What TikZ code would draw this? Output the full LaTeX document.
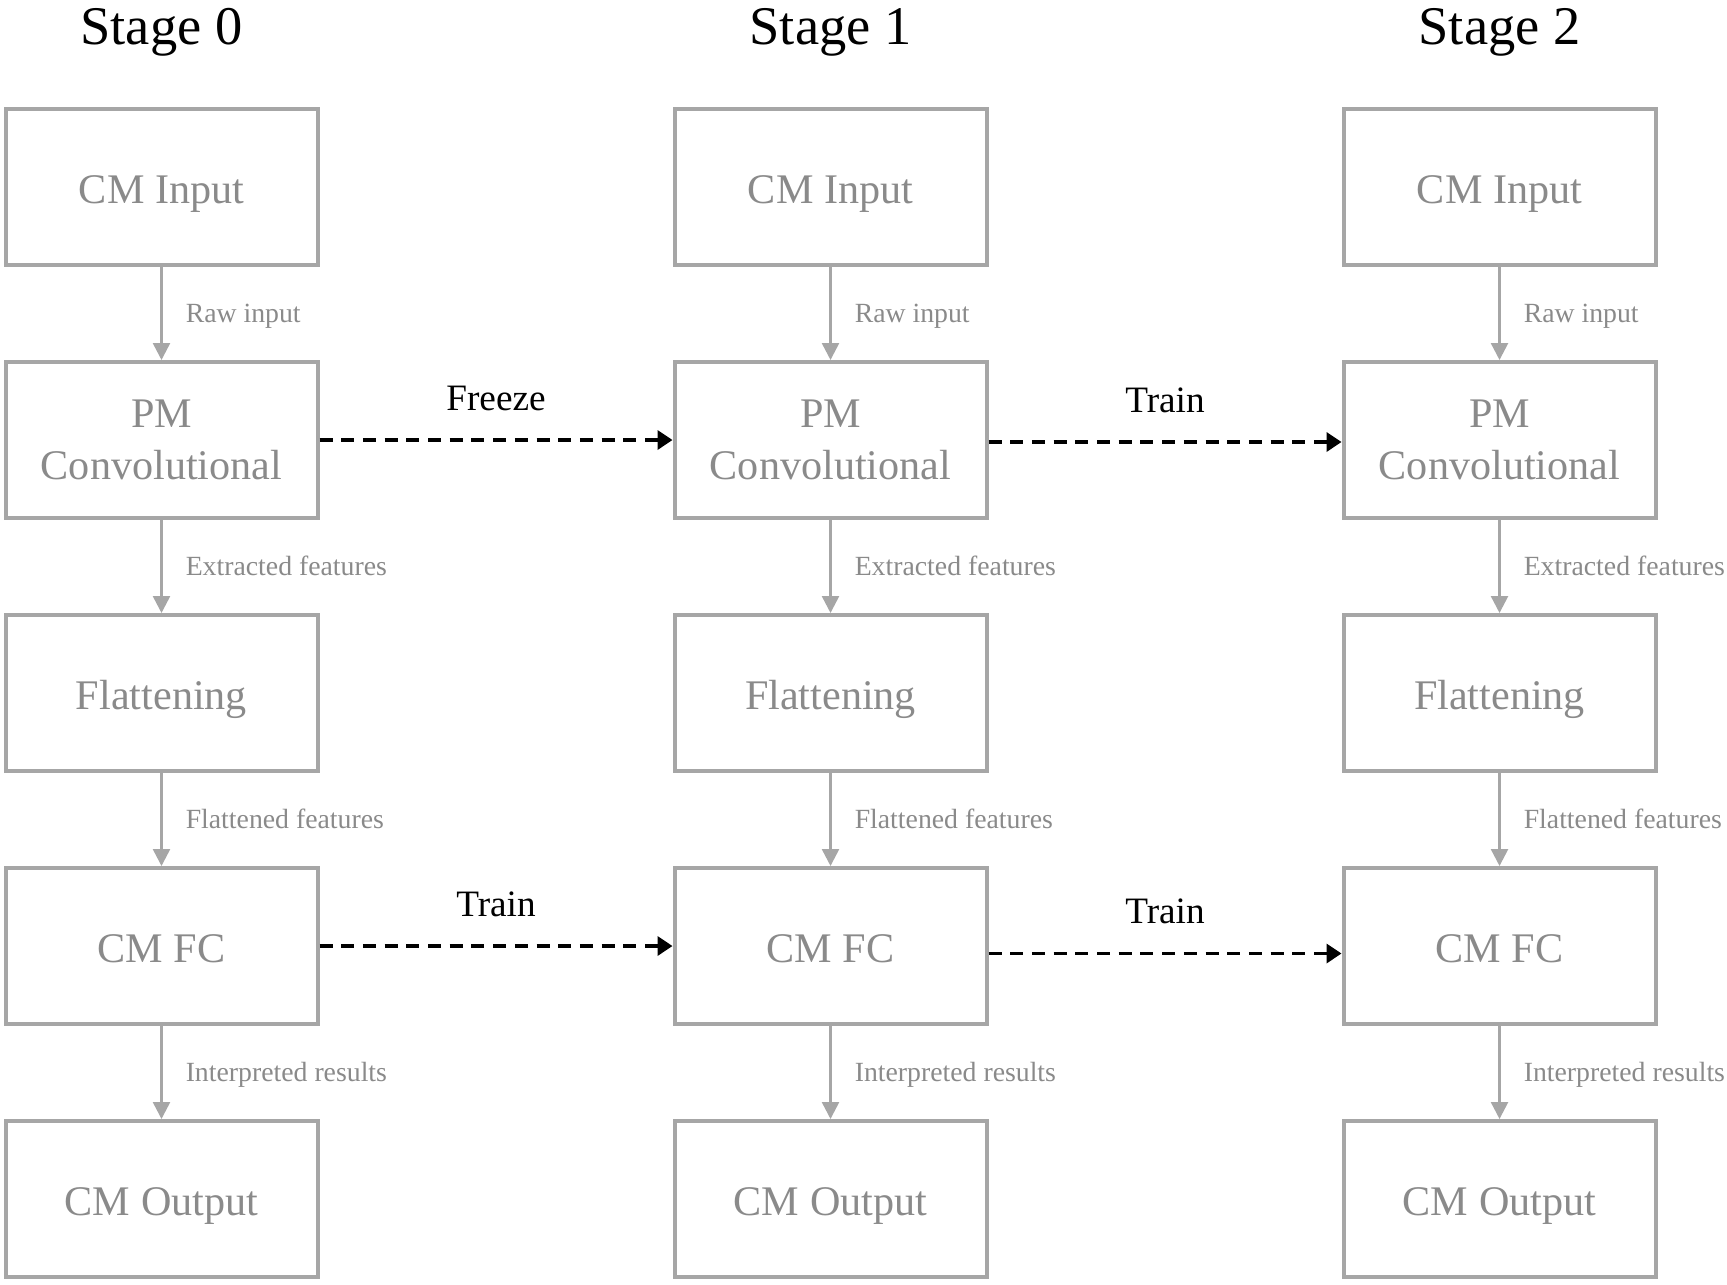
\documentclass[tikz,border=0pt]{standalone}
\usepackage{fontspec}
\setmainfont{Liberation Serif}
\usepackage{tikz}
\usetikzlibrary{arrows.meta, positioning, calc}
\definecolor{boxgray}{RGB}{166,166,166}
\definecolor{textgray}{RGB}{138,138,138}
\newcommand{\boxw}{3.12cm}
\newcommand{\boxh}{1.56cm}
\newcommand{\colstep}{6.69cm}
\tikzset{layer/.style={rectangle, draw=boxgray, line width=0.04cm, minimum width=\boxw, minimum height=\boxh, text=textgray, font=\fontsize{12}{14.7}\selectfont, align=center, inner sep=1pt, text height=0.42cm, text depth=0.09cm}}
\tikzset{twoline/.style={text height=, text depth=}}
\tikzset{feed/.style={->, >={Triangle[length=0.17cm, width=0.17cm]}, draw=boxgray, line width=0.025cm}}
\tikzset{flowlabel/.style={midway, right=0.23cm, inner sep=0pt, text height=0.18cm, text depth=0pt, text=textgray, font=\fontsize{7.9}{9}\selectfont}}
\tikzset{transfer/.style={->, >={Triangle[length=0.15cm, width=0.19cm]}, dash pattern=on 0.13cm off 0.087cm, line width=0.035cm}}
\tikzset{transferlabel/.style={midway, yshift=0.42cm, font=\fontsize{10.6}{12}\selectfont}}
\tikzset{stagetitle/.style={anchor=base, font=\fontsize{15.5}{18}\selectfont}}
\begin{document}
\begin{tikzpicture}[node distance=0.93cm]
  \useasboundingbox (0,0) rectangle (17.27,-12.84);

  % --- stage 0 ---
  \begin{scope}[xshift=1.615cm]
    \node[layer] (in0) at (0,-1.87) {CM Input};
    \node[layer, twoline, below=of in0] (pm0) {PM\\Convolutional};
    \node[layer, below=of pm0] (flat0) {Flattening};
    \node[layer, below=of flat0] (fc0) {CM FC};
    \node[layer, below=of fc0] (out0) {CM Output};
    \node[above=0.63cm of in0.north, stagetitle] (title0) {Stage 0};

    \draw[feed] (in0) -- node[flowlabel] {Raw input} (pm0);
    \draw[feed] (pm0) -- node[flowlabel] {Extracted features} (flat0);
    \draw[feed] (flat0) -- node[flowlabel] {Flattened features} (fc0);
    \draw[feed] (fc0) -- node[flowlabel] {Interpreted results} (out0);
  \end{scope}

  % --- stage 1 ---
  \begin{scope}[xshift=1.615cm+\colstep]
    \node[layer] (in1) at (0,-1.87) {CM Input};
    \node[layer, twoline, below=of in1] (pm1) {PM\\Convolutional};
    \node[layer, below=of pm1] (flat1) {Flattening};
    \node[layer, below=of flat1] (fc1) {CM FC};
    \node[layer, below=of fc1] (out1) {CM Output};
    \node[above=0.63cm of in1.north, stagetitle] (title1) {Stage 1};

    \draw[feed] (in1) -- node[flowlabel] {Raw input} (pm1);
    \draw[feed] (pm1) -- node[flowlabel] {Extracted features} (flat1);
    \draw[feed] (flat1) -- node[flowlabel] {Flattened features} (fc1);
    \draw[feed] (fc1) -- node[flowlabel] {Interpreted results} (out1);
  \end{scope}

  % --- stage 2 ---
  \begin{scope}[xshift=1.615cm+2*\colstep]
    \node[layer] (in2) at (0,-1.87) {CM Input};
    \node[layer, twoline, below=of in2] (pm2) {PM\\Convolutional};
    \node[layer, below=of pm2] (flat2) {Flattening};
    \node[layer, below=of flat2] (fc2) {CM FC};
    \node[layer, below=of fc2] (out2) {CM Output};
    \node[above=0.63cm of in2.north, stagetitle] (title2) {Stage 2};

    \draw[feed] (in2) -- node[flowlabel] {Raw input} (pm2);
    \draw[feed] (pm2) -- node[flowlabel] {Extracted features} (flat2);
    \draw[feed] (flat2) -- node[flowlabel] {Flattened features} (fc2);
    \draw[feed] (fc2) -- node[flowlabel] {Interpreted results} (out2);
  \end{scope}

  % --- freeze / train between stages ---
  \draw[transfer] (pm0) -- node[transferlabel] {Freeze} (pm1);
  \draw[transfer] ([yshift=-0.02cm]pm1.east) -- node[transferlabel] {Train} ([yshift=-0.02cm]pm2.west);
  \draw[transfer] (fc0) -- node[transferlabel] {Train} (fc1);
  \draw[transfer] ([yshift=-0.075cm]fc1.east) -- node[transferlabel] {Train} ([yshift=-0.075cm]fc2.west);

\end{tikzpicture}
\end{document}
